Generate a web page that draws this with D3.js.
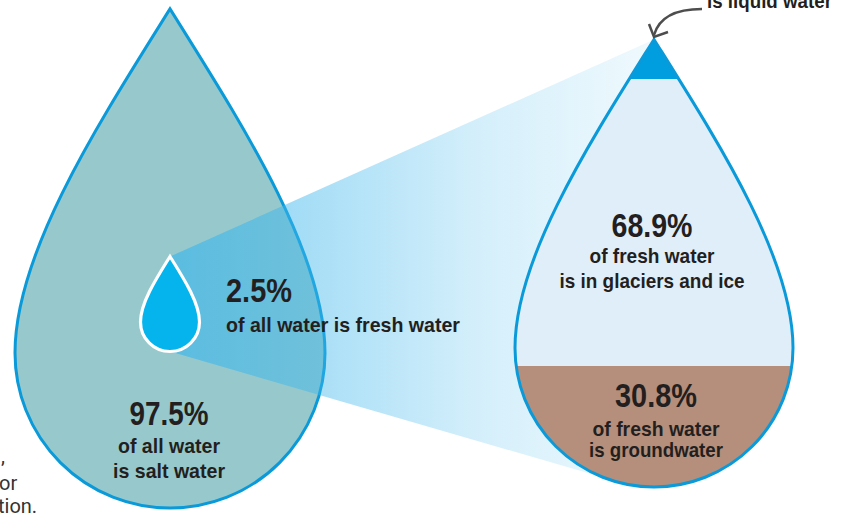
<!DOCTYPE html>
<html>
<head>
<meta charset="utf-8">
<script src="https://cdn.jsdelivr.net/npm/d3@7"></script>
<style>
  html, body { margin: 0; padding: 0; background: #fff; }
  svg { display: block; }
</style>
</head>
<body>
<div id="chart"></div>
<script>
// Share of all water on Earth
const allWaterLabels = ['salt water', 'fresh water'];
const allWaterShares = [97.5, 2.5];

// Share of fresh water, from the tip of the drop downwards
const freshLabels = ['liquid water', 'glaciers and ice', 'groundwater'];
const freshShares = [0.3, 68.9, 30.8];

const width = 847, height = 515;
const svg = d3.select('#chart').append('svg')
    .attr('width', width)
    .attr('height', height);

const blue = '#0a9ad9';
const ink = '#231f20';
const font = '"Liberation Sans", Arial, sans-serif';

// a drop = round bottom (circle) + two curved sides meeting in a point
const bigDrop = { cx: 170, cy: 353, r: 155 };
const smallDrop = { cx: 170, cy: 322, r: 29.5 };
const freshDrop = { cx: 654, cy: 348, r: 139 };

const tipRatio = 2.22;
const tipAngle = 32 * Math.PI / 180;

function dropPoints(d) {
    const tipY = d.cy - tipRatio * d.r;
    const k1 = 0.86 * d.r, k2 = 0.65 * d.r;
    return {
        p0: [d.cx, tipY],
        p1: [d.cx - k1 * Math.sin(tipAngle), tipY + k1 * Math.cos(tipAngle)],
        p2: [d.cx - d.r, d.cy - k2],
        p3: [d.cx - d.r, d.cy]
    };
}

function dropPath(d) {
    const { p0, p1, p2, p3 } = dropPoints(d);
    const mx = x => 2 * d.cx - x;
    const p = d3.path();
    p.moveTo(p0[0], p0[1]);
    p.bezierCurveTo(p1[0], p1[1], p2[0], p2[1], p3[0], p3[1]);
    p.arc(d.cx, d.cy, d.r, Math.PI, 0, true);
    p.bezierCurveTo(mx(p2[0]), p2[1], mx(p1[0]), p1[1], p0[0], p0[1]);
    p.closePath();
    return p.toString();
}

// half width of the drop from tip to bottom, used to find fill levels by area
function widthProfile(d) {
    const { p0, p1, p2, p3 } = dropPoints(d);
    const pts = [];
    for (let i = 0; i <= 300; i++) {
        const t = i / 300, u = 1 - t;
        const b = [u * u * u, 3 * u * u * t, 3 * u * t * t, t * t * t];
        const x = b[0] * p0[0] + b[1] * p1[0] + b[2] * p2[0] + b[3] * p3[0];
        const y = b[0] * p0[1] + b[1] * p1[1] + b[2] * p2[1] + b[3] * p3[1];
        pts.push({ y, hw: d.cx - x });
    }
    for (let i = 1; i <= 200; i++) {
        const a = i / 200 * Math.PI / 2;
        pts.push({ y: d.cy + d.r * Math.sin(a), hw: d.r * Math.cos(a) });
    }
    return pts;
}

// scale: share of the drop's area counted from the bottom -> y
function levelScale(d) {
    const pts = widthProfile(d).reverse();
    let area = 0;
    const cum = [0], ys = [pts[0].y];
    for (let i = 1; i < pts.length; i++) {
        area += (pts[i - 1].y - pts[i].y) * (pts[i - 1].hw + pts[i].hw);
        cum.push(area);
        ys.push(pts[i].y);
    }
    return d3.scaleLinear().domain(cum.map(a => a / area * 100)).range(ys);
}

const defs = svg.append('defs');

// light beam from the small drop to the fresh-water drop
const beamGrad = defs.append('linearGradient')
    .attr('id', 'beam')
    .attr('gradientUnits', 'userSpaceOnUse')
    .attr('x1', smallDrop.cx).attr('x2', freshDrop.cx)
    .attr('y1', 0).attr('y2', 0);
[[0, 0.66], [0.33, 0.42], [0.64, 0.22], [1, 0.08]].forEach(([o, a]) => {
    beamGrad.append('stop')
        .attr('offset', o)
        .attr('stop-color', '#3cb6ec')
        .attr('stop-opacity', a);
});

// big drop: all water
svg.append('path')
    .attr('d', dropPath(bigDrop))
    .attr('fill', '#97c9cc')
    .attr('stroke', blue)
    .attr('stroke-width', 3);

// beam
const sTip = dropPoints(smallDrop).p0;
const fTip = dropPoints(freshDrop).p0;
const fAng = 111 * Math.PI / 180;
const beamPts = [
    sTip,
    fTip,
    [freshDrop.cx + freshDrop.r * Math.cos(fAng), freshDrop.cy + freshDrop.r * Math.sin(fAng)],
    [smallDrop.cx, smallDrop.cy + smallDrop.r]
];
svg.append('path')
    .attr('d', d3.line()(beamPts) + 'Z')
    .attr('fill', 'url(#beam)');

// small drop: fresh water share
svg.append('path')
    .attr('d', dropPath(smallDrop))
    .attr('fill', '#05b4ec')
    .attr('stroke', '#fff')
    .attr('stroke-width', 3.2);

// fresh water drop, filled by area share
const level = levelScale(freshDrop);
const minShownShare = 1.2; // the tiny liquid share is drawn a bit larger to stay visible
const groundTop = level(freshShares[2]);
const iceTop = level(100 - Math.max(freshShares[0], minShownShare));
const fTopY = fTip[1];
const fBottom = freshDrop.cy + freshDrop.r;

defs.append('clipPath').attr('id', 'freshClip')
    .append('path').attr('d', dropPath(freshDrop));

const freshG = svg.append('g').attr('clip-path', 'url(#freshClip)');
const bands = [
    { name: freshLabels[0], y0: fTopY - 5, y1: iceTop, color: '#009ddf' },
    { name: freshLabels[1], y0: iceTop, y1: groundTop, color: '#e0eef9' },
    { name: freshLabels[2], y0: groundTop, y1: fBottom + 5, color: '#b58f7b' }
];
freshG.selectAll('rect')
    .data(bands)
    .join('rect')
    .attr('x', freshDrop.cx - freshDrop.r - 5)
    .attr('width', 2 * freshDrop.r + 10)
    .attr('y', d => d.y0)
    .attr('height', d => d.y1 - d.y0)
    .attr('fill', d => d.color);

svg.append('path')
    .attr('d', dropPath(freshDrop))
    .attr('fill', 'none')
    .attr('stroke', blue)
    .attr('stroke-width', 3);

// labels: condensed look via textLength (no condensed font installed)
function textBlock(x, anchor, lines) {
    const t = svg.append('text')
        .attr('text-anchor', anchor)
        .attr('fill', ink)
        .attr('font-family', font)
        .attr('font-weight', 'bold');
    lines.forEach(l => {
        t.append('tspan')
            .attr('x', x)
            .attr('y', l.y)
            .attr('font-size', l.size)
            .attr('textLength', l.w)
            .attr('lengthAdjust', 'spacingAndGlyphs')
            .text(l.text);
    });
}

const pct = v => `${v}%`;
const big = 33, small = 21;

textBlock(169, 'middle', [
    { text: pct(allWaterShares[0]), y: 425, size: big, w: 79 },
    { text: 'of all water', y: 453, size: small, w: 102 },
    { text: `is ${allWaterLabels[0]}`, y: 478, size: small, w: 112 }
]);

textBlock(226, 'start', [
    { text: pct(allWaterShares[1]), y: 302, size: big, w: 66 },
    { text: `of all water is ${allWaterLabels[1]}`, y: 332, size: small, w: 234 }
]);

textBlock(652, 'middle', [
    { text: pct(freshShares[1]), y: 237, size: big, w: 81 },
    { text: 'of fresh water', y: 263, size: small, w: 125 },
    { text: `is in ${freshLabels[1]}`, y: 288, size: small, w: 185 }
]);

textBlock(656, 'middle', [
    { text: pct(freshShares[2]), y: 407, size: big, w: 82 },
    { text: 'of fresh water', y: 436, size: small, w: 127 },
    { text: `is ${freshLabels[2]}`, y: 457, size: small, w: 134 }
]);

// liquid water callout (mostly above the frame)
textBlock(707, 'start', [
    { text: `is ${freshLabels[0]}`, y: 8, size: small, w: 125 }
]);

svg.append('path')
    .attr('d', 'M702,9 C682,9 660,14 654,35')
    .attr('fill', 'none')
    .attr('stroke', '#4d4d4d')
    .attr('stroke-width', 2.5);
svg.append('path')
    .attr('d', 'M649,24 L654,37 L668,32')
    .attr('fill', 'none')
    .attr('stroke', '#4d4d4d')
    .attr('stroke-width', 2.5)
    .attr('stroke-linejoin', 'miter');

// cut-off caption at the left edge
const cap = svg.append('text')
    .attr('fill', '#333')
    .attr('font-family', 'Roboto, "Noto Sans", sans-serif')
    .attr('font-size', 20);
[[',', 1, 463], ['or', -1, 490], ['tion.', -2, 513]].forEach(([s, x, y]) => {
    cap.append('tspan').attr('x', x).attr('y', y).text(s);
});
</script>
</body>
</html>
